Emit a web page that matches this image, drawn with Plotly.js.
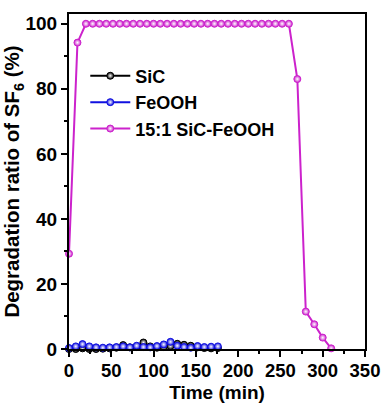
<!DOCTYPE html>
<html><head><meta charset="utf-8">
<script src="https://cdn.plot.ly/plotly-3.0.1.min.js"></script>
<style>body{margin:0;padding:0;background:#fff}#chart{width:381px;height:403px}</style>
</head><body><div id="chart"></div>
<script>
const timeLow = [0,8,16,24,32,40,48,56,64,72,80,88,96,104,112,120,128,136,144,152,160,168,176];
const sicValues = [0,0,0.2,0,0,0.1,0.2,0.4,1.2,0.5,0.6,2.0,0.8,0.4,0.6,0.9,1.6,1.3,1.0,0.5,0.3,0.2,0.3];
const feoohValues = [0.3,0.8,1.5,0.8,0.5,0.4,0.5,0.6,0.8,0.5,1.0,0.6,0.5,0.9,1.4,2.2,1.0,0.6,0.4,0.9,0.6,0.7,0.8];
const timeMix = [0,10,20,28,36,44,52,60,68,76,84,92,100,108,116,124,132,140,148,156,164,172,180,188,196,204,212,220,228,236,244,252,260,270,280,290,300,310];
const mixValues = [29.3,94.2,100,100,100,100,100,100,100,100,100,100,100,100,100,100,100,100,100,100,100,100,100,100,100,100,100,100,100,100,100,100,100,83,11.5,7.6,3.5,0.2];
const seriesNames = ["SiC","FeOOH","15:1 SiC-FeOOH"];
const seriesColors = ["#000000","#1010e0","#cc22cc"];

function mk(x,y,i){
  return {x:x,y:y,name:seriesNames[i],type:'scatter',mode:'lines+markers',
    line:{color:seriesColors[i],width:2},
    marker:{symbol:'circle',size:7,color:seriesColors[i],
      gradient:{type:'radial',color:'#ffffff'},line:{color:seriesColors[i],width:1}},
    cliponaxis:false};
}
const data=[mk(timeLow,sicValues,0),mk(timeLow,feoohValues,1),mk(timeMix,mixValues,2)];
const f={family:'"Liberation Sans", Arial, sans-serif',color:'#000'};
const layout={
  width:381,height:403,
  margin:{l:69,r:16,t:14,b:54},
  paper_bgcolor:'#fff',plot_bgcolor:'#fff',
  font:Object.assign({size:18,weight:'bold'},f),
  showlegend:true,
  legend:{x:0.055,y:0.87,xanchor:'left',yanchor:'top',bgcolor:'rgba(0,0,0,0)',
    font:Object.assign({size:18,weight:'bold'},f),tracegroupgap:0,itemwidth:40},
  xaxis:{range:[0,350],dtick:50,tick0:0,showgrid:false,zeroline:false,
    showline:true,linecolor:'#000',linewidth:2,mirror:true,
    ticks:'outside',ticklen:6,tickwidth:2,tickcolor:'#000',ticklabelstandoff:-2,
    minor:{dtick:25,ticklen:3,tickwidth:2,tickcolor:'#000',ticks:'outside'},
    tickfont:Object.assign({size:18.5,weight:'bold'},f),
    title:{text:'Time (min)',font:Object.assign({size:19,weight:'bold'},f),standoff:7}},
  yaxis:{range:[0,103],dtick:20,tick0:0,showgrid:false,zeroline:false,
    showline:true,linecolor:'#000',linewidth:2,mirror:true,
    ticks:'outside',ticklen:6,tickwidth:2,tickcolor:'#000',
    minor:{dtick:10,ticklen:3,tickwidth:2,tickcolor:'#000',ticks:'outside'},
    tickfont:Object.assign({size:19,weight:'bold'},f),
    title:{text:'Degradation ratio of SF<sub>6</sub> (%)',font:Object.assign({size:20.5,weight:'bold'},f),standoff:0}}
};
Plotly.newPlot('chart',data,layout,{displayModeBar:false,staticPlot:true});
</script></body></html>
